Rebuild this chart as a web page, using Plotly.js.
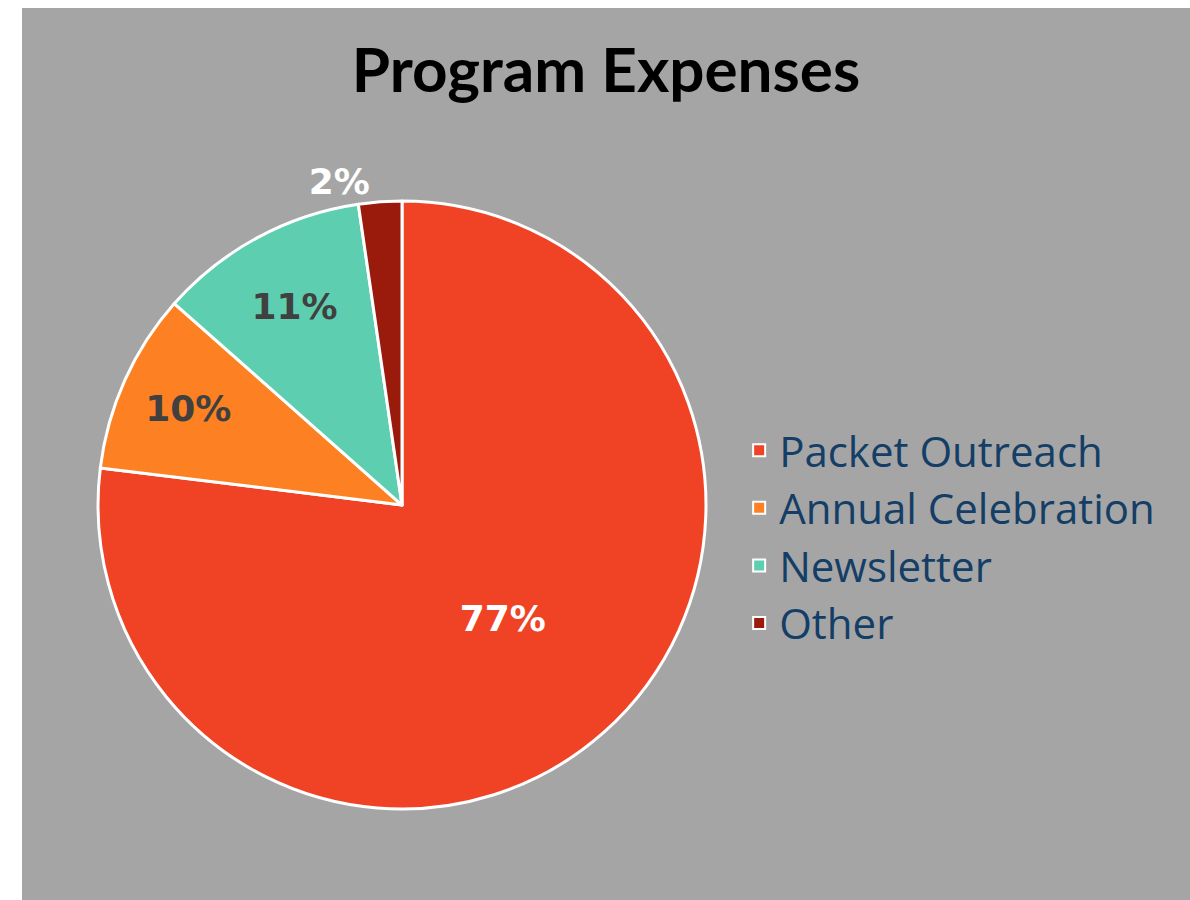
<!DOCTYPE html>
<html><head><meta charset="utf-8">
<script src="https://cdn.plot.ly/plotly-3.0.1.min.js"></script>
<style>html,body{margin:0;padding:0;background:#fff;}#chart{position:absolute;left:22px;top:8px;width:1168px;height:892px;}</style>
</head><body><div id="chart"></div>
<script>
const categories = ['Packet Outreach', 'Annual Celebration', 'Newsletter', 'Other'];
const values = [77.1, 9.6, 11.2, 2.3];
const sliceColors = ['#f04225', '#fd8122', '#5dcfb0', '#9a1b0c'];
const labelColors = ['#ffffff', '#404040', '#404040', '#ffffff'];
const labelPositions = ['inside', 'inside', 'inside', 'outside'];

const trace = {
  type: 'pie',
  labels: categories,
  values: values,
  sort: false,
  direction: 'clockwise',
  rotation: 0,
  marker: {colors: sliceColors, line: {color: '#ffffff', width: 3}},
  textinfo: 'percent',
  texttemplate: '%{percent:.0%}',
  textposition: labelPositions,
  insidetextorientation: 'horizontal',
  textfont: {family: 'DejaVu Sans', size: 36, weight: 'bold', color: labelColors},
  hoverinfo: 'label+percent',
  domain: {x: [0.0651, 0.5856], y: [0.1020, 0.7836]}
};

const layout = {
  width: 1168, height: 892,
  paper_bgcolor: '#a5a5a5',
  plot_bgcolor: '#a5a5a5',
  margin: {l: 0, r: 0, t: 0, b: 0},
  title: {text: 'Program Expenses', x: 0.5, xanchor: 'center', y: 0.93, yanchor: 'middle', yref: 'container',
          font: {family: 'Lato', size: 62, weight: 'bold', color: '#000000'}},
  showlegend: true,
  legend: {x: 0.614, xanchor: 'left', y: 0.407, yanchor: 'middle', bgcolor: 'rgba(0,0,0,0)',
           font: {family: 'Open Sans', size: 42, color: '#143e66'}, itemsizing: 'constant'}
};

Plotly.newPlot('chart', [trace], layout, {displayModeBar: false, staticPlot: true});
</script></body></html>
